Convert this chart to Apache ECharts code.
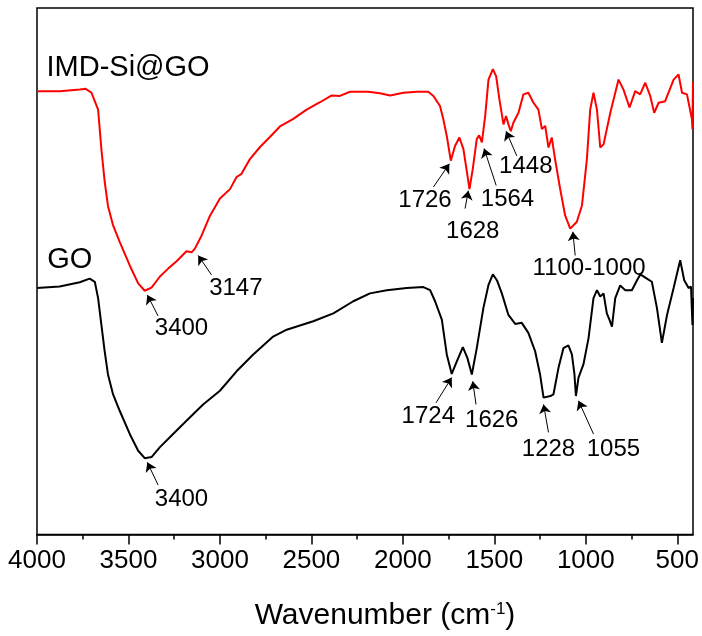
<!DOCTYPE html>
<html><head><meta charset="utf-8">
<script src="https://cdn.jsdelivr.net/npm/echarts@6/dist/echarts.min.js"></script>
<style>html,body{margin:0;padding:0;background:#fff}#c{width:702px;height:636px}</style>
</head><body><div id="c"></div>
<script>
// ---- data (wavenumber cm-1, transmittance a.u.) ----
const wnIMD = [4000,3876,3766,3734,3702,3666,3648,3630,3612,3584,3548,3493,3447,3411,3374,3328,3283,3237,3183,3155,3137,3100,3055,3000,2945,2909,2882,2836,2781,2727,2672,2601,2526,2453,2389,2344,2289,2189,2125,2070,1997,1924,1861,1833,1797,1779,1760,1738,1715,1691,1669,1647,1636,1618,1596,1583,1568,1550,1532,1508,1490,1472,1450,1436,1423,1410,1396,1368,1341,1314,1286,1259,1240,1222,1204,1186,1168,1140,1113,1085,1049,1021,994,976,958,939,921,903,866,821,794,761,730,703,675,648,626,602,566,520,493,474,447,420,417,414];
const tIMD = [84.2,84.2,84.5,84.65,83.9,80.7,73.2,67.0,62.4,58.7,55.6,51.1,47.7,46.3,46.9,49.0,50.5,51.9,53.8,53.6,54.3,56.8,60.5,63.8,65.6,67.9,68.5,71.3,73.6,75.5,77.5,78.9,80.7,82.1,83.4,83.3,84.1,84.1,83.8,83.4,83.9,84.1,84.1,83.3,81.4,78.9,75.7,71.0,73.8,75.4,73.2,68.2,65.6,69.4,75.1,75.8,74.5,79.5,86.4,88.4,87.0,82.6,77.9,79.5,77.9,76.6,78.2,80.1,83.6,83.9,82.0,80.7,77.0,77.6,73.5,75.4,71.3,65.6,60.6,58.1,59.4,62.5,71.3,80.7,83.9,80.7,73.5,74.1,80.1,86.4,84.5,81.1,84.2,83.6,85.8,83.3,80.1,82.0,82.3,86.4,87.4,83.9,83.6,78.9,77.0,86.0];
const wnGO = [4000,3876,3766,3712,3684,3666,3648,3630,3612,3584,3548,3493,3447,3411,3374,3328,3256,3183,3092,3000,2909,2818,2709,2635,2490,2380,2271,2180,2088,1979,1888,1851,1824,1787,1760,1733,1705,1672,1647,1623,1596,1560,1532,1508,1486,1459,1423,1386,1350,1314,1277,1250,1231,1194,1177,1149,1122,1095,1076,1062,1054,1040,1013,985,958,939,921,903,885,871,857,839,812,784,748,720,702,666,639,611,584,556,520,484,462,438,425,417,414];
const tGO = [46.8,47.1,47.9,48.6,48.0,44.9,39.8,34.8,30.4,26.6,23.5,19.1,15.9,14.5,14.7,16.6,19.1,21.6,24.7,27.3,31.0,34.2,37.6,38.9,40.5,42.0,44.3,45.8,46.4,46.8,47.0,46.4,44.3,40.8,34.2,30.5,32.9,35.6,33.5,30.4,35.4,43.0,47.4,49.4,48.3,45.8,41.7,40.0,40.2,38.3,34.8,30.4,26.0,26.3,26.6,31.7,35.4,35.9,34.2,30.4,26.3,29.8,32.3,37.3,44.9,46.4,45.2,45.8,42.0,40.8,39.5,44.9,47.3,46.4,46.4,48.3,49.4,48.6,48.0,43.0,36.4,41.7,46.8,52.1,48.3,46.8,47.1,39.8,44.9];

const majorTicks = [4000,3500,3000,2500,2000,1500,1000,500];
const minorTicks = [3750,3250,2750,2250,1750,1250,750];

const seriesNames = ['IMD-Si@GO','GO'];
const seriesColors = ['#ff0000','#000000'];
const nameLabelPos = [[3502,88.6],[3821,52.1]];

// peak annotations: text, text centre, arrow tail, arrow tip
const annText = ['3147','3400','3400','1726','1628','1564','1448','1100-1000','1724','1626','1228','1055'];
const annTextPos = [[2913,46.8],[3210,39.2],[3210,6.6],[1879,63.4],[1618,57.5],[1428,63.6],[1328,70.0],[982,50.5],[1861,22.5],[1514,21.6],[1204,16.2],[849,16.2]];
const annTail = [[3046,49.3],[3338,41.5],[3338,9.4],[1833,66.0],[1660,61.9],[1490,66.3],[1377,71.9],[1058,53.0],[1819,25.0],[1600,24.7],[1204,19.4],[958,19.1]];
const annTip = [[3119,53.0],[3397,45.5],[3397,13.7],[1746,70.4],[1642,65.3],[1556,73.3],[1436,76.6],[1071,57.5],[1733,29.8],[1618,29.1],[1231,24.7],[1040,25.4]];

const FONT = 'Liberation Sans, Arial, sans-serif';
const chart = echarts.init(document.getElementById('c'));

const lineSeries = [[wnIMD,tIMD],[wnGO,tGO]].map((d,i)=>({
  type:'line', name: seriesNames[i], xAxisIndex:0, yAxisIndex:0,
  data: d[0].map((w,k)=>[w,d[1][k]]),
  showSymbol:false, symbol:'none', smooth:false,
  lineStyle:{color:seriesColors[i], width:2},
  itemStyle:{color:seriesColors[i]}, silent:true, z:3
}));

const txt = (t,size)=>({show:true, position:[0,0], align:'center', verticalAlign:'middle',
  formatter:t, fontSize:size, color:'#000', fontFamily:FONT, textBorderWidth:0, opacity:1});

const option = {
  animation:false,
  backgroundColor:'#fff',
  grid:{left:37, right:9, top:8, bottom:98, show:true, borderColor:'#000', borderWidth:1.5, backgroundColor:'transparent'},
  xAxis:[{
    type:'value', inverse:true, min:414, max:4000,
    axisLine:{show:true, lineStyle:{color:'#000', width:1.5}},
    axisTick:{show:true, customValues:majorTicks, length:10, inside:false, lineStyle:{color:'#000', width:1.5}},
    axisLabel:{show:true, customValues:majorTicks, fontSize:26, color:'#000', fontFamily:FONT, margin:13, formatter:v=>String(v)},
    splitLine:{show:false},
    name:'Wavenumber (cm{sup|-1})',
    nameLocation:'middle', nameGap:66,
    nameTextStyle:{fontSize:30, color:'#000', fontFamily:FONT, padding:[0,0,0,40],
      rich:{sup:{fontSize:17, color:'#000', fontFamily:FONT, verticalAlign:'top', padding:[0,0,14,0]}}}
  },{
    type:'value', inverse:true, min:414, max:4000, position:'bottom',
    axisLine:{show:false},
    axisTick:{show:true, customValues:minorTicks, length:5, lineStyle:{color:'#000', width:1.5}},
    axisLabel:{show:false}, splitLine:{show:false}
  }],
  yAxis:[{type:'value', min:0, max:100, show:false}],
  series:[
    ...lineSeries,
    {
      type:'scatter', name:'labels', symbol:'circle', symbolSize:0, silent:true, z:5,
      itemStyle:{color:'#000', opacity:1},
      data: nameLabelPos.map((p,i)=>({value:[p[0],p[1]], label:txt(seriesNames[i],29)}))
        .concat(annText.map((t,i)=>({value:[annTextPos[i][0],annTextPos[i][1]], label:txt(t,24)}))),
      label:{show:true, color:'#000', fontFamily:FONT},
      markLine:{
        silent:true, animation:false,
        symbol:['none','arrow'], symbolSize:9,
        label:{show:false},
        emphasis:{disabled:true},
        lineStyle:{color:'#000', width:1, type:'solid', opacity:1},
        itemStyle:{color:'#000'},
        data: annTip.map((p,i)=>[{coord:annTail[i]},{coord:p}])
      }
    }
  ]
};
chart.setOption(option);
</script></body></html>
